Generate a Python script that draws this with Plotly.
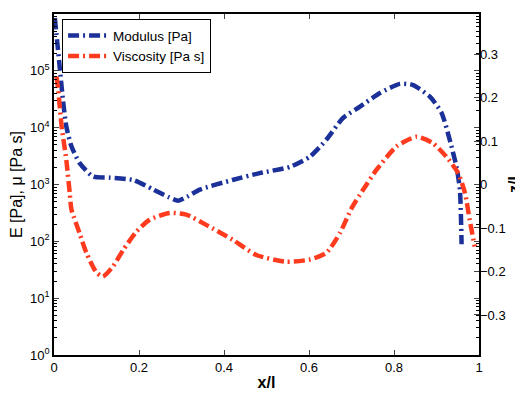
import plotly.graph_objects as go

# Modulus [Pa] (blue)
x_mod = [0.002, 0.0134, 0.021, 0.029, 0.041, 0.060, 0.092, 0.131, 0.186, 0.234,
         0.270, 0.292, 0.315, 0.343, 0.42, 0.484, 0.555, 0.602, 0.641, 0.680, 0.720,
         0.767, 0.814, 0.845, 0.885, 0.912, 0.931, 0.947, 0.955, 0.959]
E_mod = [850000, 117000, 31000, 10500, 4700, 2400, 1380, 1320, 1200, 813,
         600, 520, 620, 813, 1200, 1585, 2040, 3090, 6170, 14800, 23400,
         40700, 58900, 56200, 34700, 18200, 6170, 2040, 813, 89]

# Viscosity [Pa s] (red)
x_vis = [0.006, 0.01, 0.018, 0.029, 0.037, 0.041, 0.060, 0.076, 0.1, 0.115,
         0.139, 0.163, 0.194, 0.225, 0.272, 0.311, 0.358, 0.42, 0.476, 0.546,
         0.602, 0.641, 0.673, 0.700, 0.725, 0.759, 0.806, 0.853, 0.891, 0.923,
         0.951, 0.967, 0.978, 0.99]
mu_vis = [79400, 45700, 10500, 2690, 708, 363, 141, 63, 28.2, 24,
          36.3, 70.8, 148, 240, 316, 295, 195, 107, 57.5, 43.7,
          47.9, 63, 141, 380, 760, 1820, 4680, 6920, 5370, 3090,
          1585, 708, 240, 81]

left_tickvals = [1, 10, 100, 1000, 10000, 100000, 1000000]
left_ticktext = ["10<sup>0</sup>", "10<sup>1</sup>", "10<sup>2</sup>", "10<sup>3</sup>",
                 "10<sup>4</sup>", "10<sup>5</sup>", "10<sup>6</sup>"]
right_tickvals = [-0.3, -0.2, -0.1, 0, 0.1, 0.2, 0.3]
right_ticktext = ["\u22120.3", "\u22120.2", "\u22120.1", "0", "0.1", "0.2", "0.3"]
x_tickvals = [0, 0.2, 0.4, 0.6, 0.8, 1]
x_ticktext = ["0", "0.2", "0.4", "0.6", "0.8", "1"]

minor_vals = [m * 10 ** d for d in range(0, 6) for m in range(2, 10)]

BLUE = "#1b3199"
RED = "#ff3b1f"
DASH = "11px,4px,2px,4px"

fig = go.Figure()
fig.add_trace(go.Scatter(x=x_mod, y=E_mod, mode="lines", name="Modulus [Pa]",
                         line=dict(color=BLUE, width=4.5, dash=DASH, shape="spline", smoothing=0.6)))
fig.add_trace(go.Scatter(x=x_vis, y=mu_vis, mode="lines", name="Viscosity [Pa s]",
                         line=dict(color=RED, width=4.5, dash=DASH, shape="spline", smoothing=0.6)))
fig.add_trace(go.Scatter(x=[0.5], y=[0], yaxis="y2", mode="markers", showlegend=False,
                         marker=dict(opacity=0), hoverinfo="skip"))

font = dict(family="Liberation Sans, Arial, sans-serif", size=13, color="black")

fig.update_layout(
    width=515, height=386,
    margin=dict(l=46, r=44, t=6, b=39, pad=0),
    paper_bgcolor="white", plot_bgcolor="white",
    font=font,
    showlegend=True,
    legend=dict(x=0.019, y=0.985, xanchor="left", yanchor="top",
                bgcolor="white", bordercolor="black", borderwidth=1,
                font=dict(size=13.5), tracegroupgap=0, itemwidth=40),
    xaxis=dict(range=[0, 1], tickvals=x_tickvals, ticktext=x_ticktext,
               ticks="inside", ticklen=5, showline=True, linecolor="black", linewidth=1.5,
               mirror="ticks", showgrid=False, zeroline=False, automargin=False,
               title=dict(text="<b>x/l</b>", standoff=2)),
    yaxis=dict(type="log", range=[0, 6], tickvals=left_tickvals, ticktext=left_ticktext,
               ticks="inside", ticklen=5, showline=True, linecolor="black", linewidth=1.5,
               mirror="ticks", showgrid=False, zeroline=False, automargin=False,
               minor=dict(tickvals=minor_vals, ticks="inside", ticklen=3, tickcolor="black"),
               title=dict(text="E [Pa], \u03bc [Pa s]", standoff=6)),
    yaxis2=dict(overlaying="y", side="right", range=[-0.392, 0.392],
                tickvals=right_tickvals, ticktext=right_ticktext, automargin=False,
                ticks="inside", ticklen=5, showline=False, showgrid=False, zeroline=False,
                title=dict(text="<b>z/l</b>", standoff=8)),
)

fig.write_html("out.html")
